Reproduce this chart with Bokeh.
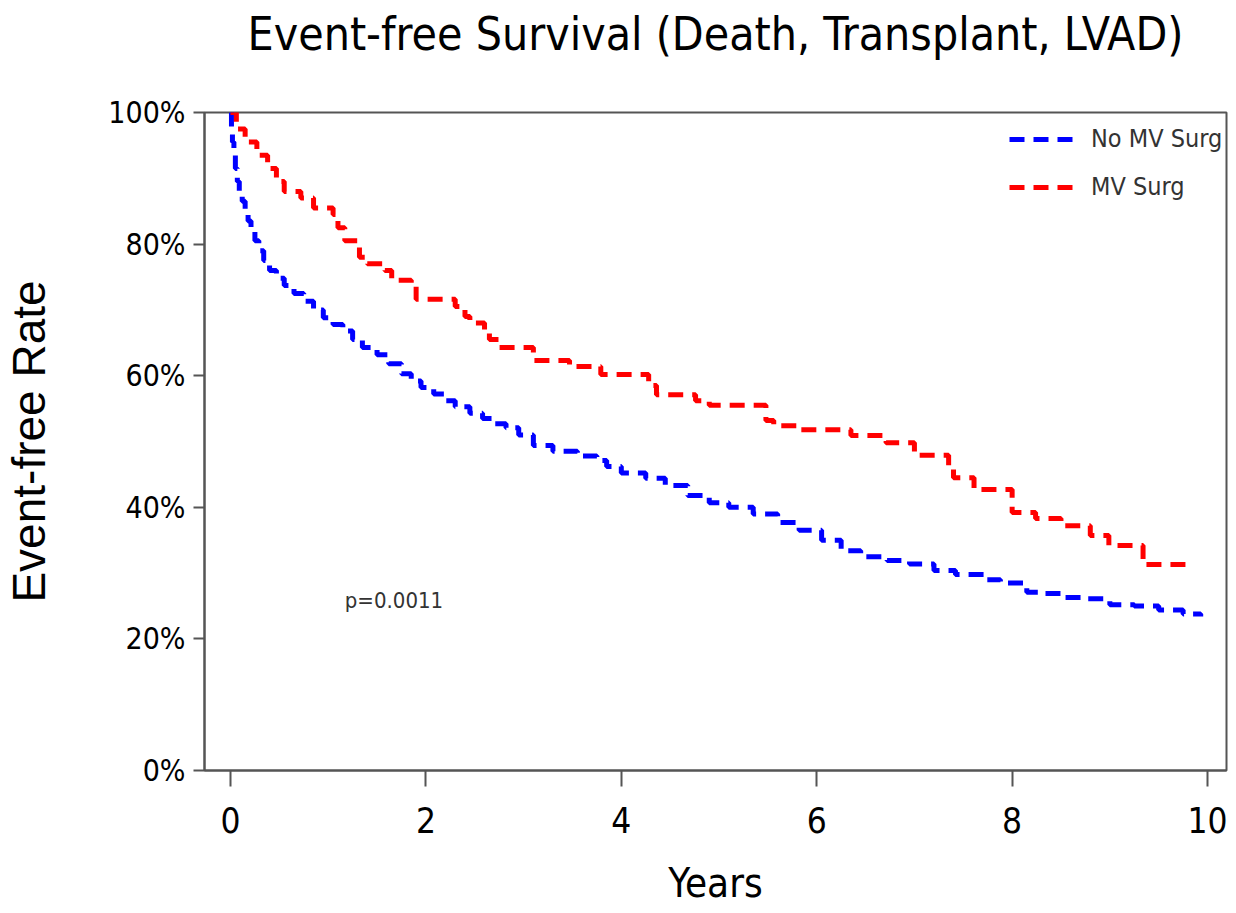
from bokeh.plotting import figure
from bokeh.models import Range1d, FixedTicker, Legend, LegendItem, Label, NumeralTickFormatter, Title
from bokeh.embed import file_html
from bokeh.resources import INLINE

NARROW = "'Liberation Sans Narrow', 'DejaVu Sans Condensed', sans-serif"
REG = "'Liberation Sans', Arial, sans-serif"

title_text = "Event-free Survival (Death, Transplant, LVAD)"
x_label = "Years"
y_label = "Event-free Rate"
series_names = ["No MV Surg", "MV Surg"]
p_value_text = "p=0.0011"

x_ticks = [0, 2, 4, 6, 8, 10]
y_ticks = [0.0, 0.2, 0.4, 0.6, 0.8, 1.0]

# No MV Surg (blue) - step times (years) and event-free fraction
no_mv_t = [0.00, 0.01, 0.02, 0.035, 0.05, 0.07, 0.09, 0.12, 0.15, 0.18, 0.21, 0.25,
           0.29, 0.34, 0.40, 0.47, 0.55, 0.65, 0.75, 0.85, 0.95, 1.05, 1.15, 1.25,
           1.35, 1.50, 1.62, 1.75, 1.85, 1.95, 2.08, 2.20, 2.30, 2.45, 2.58, 2.70,
           2.82, 2.95, 3.10, 3.30, 3.55, 3.75, 3.85, 4.00,
           4.25, 4.45, 4.68, 4.90, 5.10, 5.35, 5.60, 5.82, 6.05, 6.25, 6.45, 6.72,
           6.95, 7.20, 7.42, 7.72, 7.88, 8.15, 8.33, 8.50, 8.75, 9.00, 9.25, 9.50,
           9.75, 9.93]
no_mv_s = [1.000, 0.975, 0.955, 0.935, 0.915, 0.895, 0.880, 0.865, 0.850, 0.835, 0.820, 0.805,
           0.790, 0.775, 0.760, 0.748, 0.737, 0.725, 0.713, 0.700, 0.688, 0.678, 0.668, 0.655,
           0.643, 0.632, 0.618, 0.603, 0.592, 0.582, 0.572, 0.562, 0.553, 0.543, 0.535, 0.527,
           0.521, 0.510, 0.494, 0.485, 0.478, 0.471, 0.462, 0.452,
           0.444, 0.433, 0.418, 0.407, 0.400, 0.390, 0.377, 0.365, 0.350, 0.334, 0.325, 0.319,
           0.314, 0.304, 0.298, 0.290, 0.285, 0.271, 0.269, 0.263, 0.261, 0.252, 0.250, 0.244,
           0.238, 0.234]

# MV Surg (red)
mv_t = [0.00, 0.06, 0.15, 0.27, 0.38, 0.47, 0.55, 0.72, 0.85, 1.05, 1.10, 1.17,
        1.32, 1.40, 1.58, 1.65, 1.85, 1.90, 2.30, 2.40, 2.45, 2.60, 2.65, 2.75,
        3.10, 3.47, 3.79, 4.28, 4.36, 4.76, 4.90, 5.48, 5.56, 5.84, 6.35, 6.71,
        7.00, 7.35, 7.40, 7.61, 8.00, 8.24, 8.50, 8.80, 8.99, 9.34, 9.78]
mv_s = [1.000, 0.975, 0.955, 0.935, 0.915, 0.895, 0.880, 0.870, 0.855, 0.845, 0.825, 0.805,
        0.780, 0.770, 0.760, 0.745, 0.738, 0.716, 0.705, 0.690, 0.680, 0.665, 0.655, 0.643,
        0.623, 0.614, 0.602, 0.585, 0.571, 0.562, 0.555, 0.532, 0.524, 0.518, 0.509, 0.498,
        0.479, 0.462, 0.445, 0.427, 0.392, 0.383, 0.372, 0.357, 0.342, 0.313, 0.313]

p = figure(width=1228, height=905, output_backend="svg", toolbar_location=None,
           x_range=Range1d(-0.266, 10.194), y_range=Range1d(0, 1),
           min_border_left=203, min_border_right=2, min_border_top=112, min_border_bottom=135)

p.title.text = title_text
p.title.text_font = NARROW
p.title.text_font_size = "46px"
p.title.text_font_style = "normal"
p.title.text_color = "black"
p.title.align = "center"
p.title.vertical_align = "top"
p.title.offset = 4
p.title.standoff = 0
p.title.padding = dict(left=0, right=0, top=0, bottom=50)

p.grid.visible = False
p.outline_line_color = "#555555"
p.outline_line_width = 2
p.background_fill_color = "white"
p.border_fill_color = "white"

for ax in (p.xaxis[0], p.yaxis[0]):
    ax.axis_line_color = "#555555"
    ax.axis_line_width = 2
    ax.major_tick_line_color = "#555555"
    ax.major_tick_line_width = 2
    ax.minor_tick_line_color = None
    ax.major_tick_in = 0
    ax.major_label_text_color = "black"
    ax.axis_label_text_color = "black"
    ax.axis_label_text_font_style = "normal"

p.xaxis.ticker = FixedTicker(ticks=x_ticks)
p.xaxis.major_tick_out = 16
p.xaxis.major_label_text_font = NARROW
p.xaxis.major_label_text_font_size = "35px"
p.xaxis.major_label_standoff = 20

p.yaxis.ticker = FixedTicker(ticks=y_ticks)
p.yaxis.formatter = NumeralTickFormatter(format="0%")
p.yaxis.major_tick_out = 11
p.yaxis.major_label_text_font = NARROW
p.yaxis.major_label_text_font_size = "30px"
p.yaxis.major_label_standoff = 8
p.yaxis.axis_label = y_label
p.yaxis.axis_label_text_font = REG
p.yaxis.axis_label_text_font_size = "46px"
p.yaxis.axis_label_standoff = 50

# x-axis title as a bottom title panel
xt = Title(text=x_label, align="center", vertical_align="bottom", offset=5, standoff=0,
           text_font=NARROW, text_font_size="40px", text_font_style="normal",
           text_color="black", padding=dict(left=0, right=0, top=22, bottom=0))
p.add_layout(xt, "below")

r_blue = p.step(no_mv_t, no_mv_s, mode="after", line_color="#0000FF", line_width=5,
                line_dash="15 9")
r_red = p.step(mv_t, mv_s, mode="after", line_color="#FF0000", line_width=5,
               line_dash="15 9")

legend = Legend(items=[LegendItem(label=series_names[0], renderers=[r_blue]),
                       LegendItem(label=series_names[1], renderers=[r_red])],
                location=(805, 569), orientation="vertical",
                border_line_color=None, background_fill_alpha=0,
                padding=0, margin=0, spacing=19,
                glyph_width=66, glyph_height=24, label_height=24,
                label_standoff=16, label_width=130,
                label_text_align="right",
                label_text_font=NARROW, label_text_font_size="25px",
                label_text_color="#333333")
p.add_layout(legend)

p.add_layout(Label(x=1.17, y=0.258, text=p_value_text, text_font=NARROW,
                   text_font_size="22px", text_color="#333333",
                   text_baseline="middle", text_align="left"))

open("out.html", "w").write(file_html(p, INLINE))
